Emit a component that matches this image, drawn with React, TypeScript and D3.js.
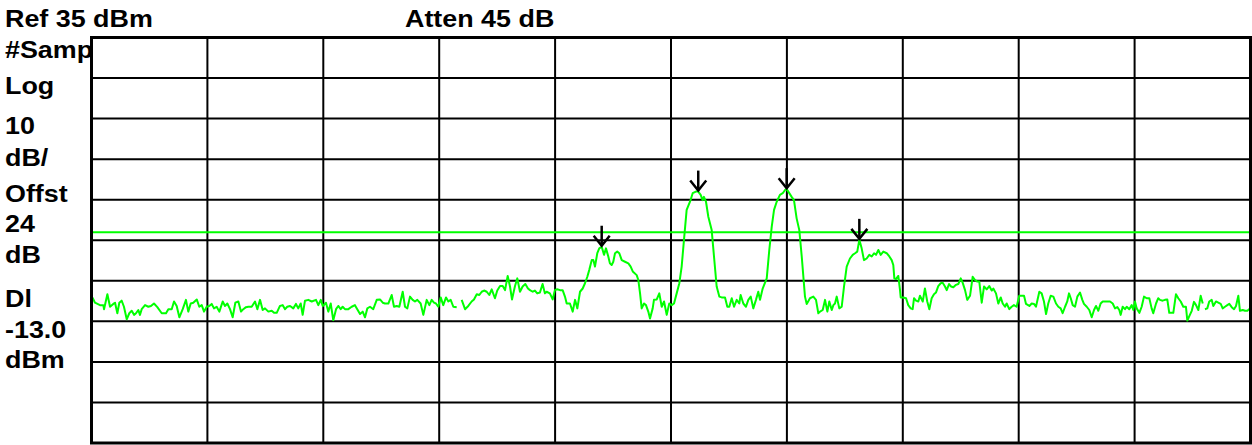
import React from "react";
import * as d3 from "d3";

// ---- Data (x in screen divisions 0..10, amplitude in dBm) ----
const refLevel = 35; // dBm
const dbPerDiv = 10;
const numDivX = 10;
const numDivY = 10;
const displayLineDbm = -13.0;

const headerTexts = ["Ref 35 dBm", "Atten 45 dB"];
const sideLabels = ["#Samp", "Log", "10", "dB/", "Offst", "24", "dB", "Dl", "-13.0", "dBm"];

const traceDiv = [
  0.000, 0.010, 0.030, 0.073, 0.102, 0.108, 0.137, 0.160, 0.188, 0.203, 0.223, 0.240, 0.260, 0.280, 0.304, 0.326,
  0.347, 0.367, 0.384, 0.404, 0.418, 0.433, 0.462, 0.490, 0.513, 0.539, 0.568, 0.606, 0.643, 0.663, 0.692, 0.712,
  0.735, 0.758, 0.787, 0.815, 0.835, 0.856, 0.878, 0.908, 0.930, 0.951, 0.971, 0.994, 1.016, 1.037, 1.057, 1.080,
  1.103, 1.132, 1.152, 1.172, 1.195, 1.218, 1.241, 1.267, 1.290, 1.310, 1.333, 1.353, 1.382, 1.411, 1.431, 1.454,
  1.477, 1.497, 1.526, 1.555, 1.575, 1.598, 1.626, 1.650, 1.670, 1.689, 1.713, 1.741, 1.764, 1.784, 1.805, 1.822,
  1.842, 1.871, 1.900, 1.937, 1.957, 1.978, 1.995, 2.023, 2.043, 2.064, 2.086, 2.110, 2.129, 2.150, 2.167, 2.187,
  2.216, 2.245, 2.273, 2.293, 2.317, 2.340, 2.360, 2.380, 2.403, 2.431, 2.461, 2.489, 2.513, 2.532, 2.561, 2.590,
  2.610, 2.633, 2.656, 2.685, 2.705, 2.725, 2.748, 2.771, 2.791, 2.811, 2.840, 2.863, 2.892, 2.915, 2.935, 2.955,
  2.972, 2.992, 3.013, 3.035, 3.059, 3.079, 3.099, 3.122, 3.151, 3.172, 3.194, 3.223, 3.251, 3.280, 3.300, 3.324,
  3.346, 3.367, 3.387, 3.410, 3.432, 3.453, 3.481, 3.501, 3.525, 3.548, 3.568, 3.591, 3.611, 3.628, 3.654, 3.674,
  3.697, 3.720, 3.743, 3.766, 3.783, 3.807, 3.826, 3.846, 3.869, 3.892, 3.912, 3.927, 3.955, 3.979, 3.998, 4.018,
  4.042, 4.065, 4.085, 4.100, 4.128, 4.152, 4.172, 4.192, 4.215, 4.238, 4.258, 4.278, 4.295, 4.316, 4.330, 4.344,
  4.364, 4.381, 4.402, 4.422, 4.439, 4.459, 4.473, 4.488, 4.502, 4.517, 4.536, 4.554, 4.575, 4.603, 4.632, 4.652,
  4.670, 4.704, 4.718, 4.733, 4.747, 4.767, 4.784, 4.804, 4.819, 4.842, 4.853, 4.877, 4.899, 4.920, 4.940, 4.963,
  4.985, 5.006, 5.026, 5.049, 5.072, 5.092, 5.112, 5.135, 5.164, 5.187, 5.215, 5.235, 5.256, 5.273, 5.284, 5.302,
  5.322, 5.351, 5.371, 5.394, 5.417, 5.437, 5.466, 5.486, 5.503, 5.524, 5.544, 5.567, 5.589, 5.601, 5.624, 5.647,
  5.667, 5.688, 5.710, 5.733, 5.753, 5.768, 5.791, 5.826, 5.848, 5.869, 5.889, 5.912, 5.940, 5.964, 5.984, 5.998,
  6.012, 6.041, 6.061, 6.084, 6.107, 6.128, 6.156, 6.171, 6.199, 6.228, 6.251, 6.271, 6.286, 6.309, 6.329, 6.349,
  6.366, 6.387, 6.401, 6.415, 6.430, 6.452, 6.473, 6.493, 6.516, 6.544, 6.568, 6.588, 6.607, 6.625, 6.645, 6.665,
  6.688, 6.711, 6.732, 6.752, 6.769, 6.789, 6.809, 6.832, 6.861, 6.884, 6.904, 6.918, 6.927, 6.941, 6.961, 6.976,
  6.982, 7.004, 7.028, 7.047, 7.068, 7.085, 7.097, 7.114, 7.134, 7.148, 7.172, 7.191, 7.211, 7.229, 7.249, 7.269,
  7.286, 7.306, 7.327, 7.344, 7.364, 7.379, 7.399, 7.416, 7.436, 7.459, 7.479, 7.500, 7.517, 7.537, 7.556, 7.580,
  7.603, 7.623, 7.643, 7.660, 7.681, 7.701, 7.724, 7.746, 7.767, 7.781, 7.804, 7.824, 7.845, 7.862, 7.882, 7.896,
  7.919, 7.939, 7.959, 7.982, 8.005, 8.026, 8.046, 8.063, 8.092, 8.112, 8.132, 8.149, 8.178, 8.198, 8.218, 8.236,
  8.255, 8.276, 8.299, 8.322, 8.342, 8.362, 8.379, 8.400, 8.419, 8.434, 8.449, 8.466, 8.486, 8.506, 8.529, 8.549,
  8.563, 8.587, 8.609, 8.630, 8.650, 8.667, 8.687, 8.707, 8.725, 8.759, 8.788, 8.811, 8.831, 8.851, 8.868, 8.880,
  8.897, 8.917, 8.932, 8.954, 8.975, 8.989, 9.003, 9.018, 9.041, 9.061, 9.081, 9.104, 9.127, 9.147, 9.161, 9.185,
  9.204, 9.219, 9.242, 9.262, 9.282, 9.299, 9.320, 9.334, 9.357, 9.377, 9.398, 9.420, 9.443, 9.455, 9.472, 9.493,
  9.512, 9.530, 9.550, 9.570, 9.588, 9.598, 9.607, 9.627, 9.644, 9.665, 9.679, 9.702, 9.722, 9.743, 9.760, 9.780,
  9.800, 9.817, 9.838, 9.858, 9.875, 9.895, 9.909, 9.933, 9.953, 9.973, 9.996, 10.000,
];

const traceDbm: (number | null)[] = [
  -30.1, -29.2, -30.4, -31.0, -31.0, -32.0, -28.3, -31.4, -30.7, -30.4, -33.0, -30.4, -29.9, -31.4, -34.5, -33.0,
  -32.4, -33.4, -33.0, -32.2, -33.4, -32.0, -31.0, -31.4, -31.2, -30.6, -31.5, -33.0, -33.0, -32.0, -32.0, -30.1,
  -31.2, -34.0, -32.0, -29.7, -32.6, -30.6, -30.4, -29.6, -31.4, -31.0, -32.6, -31.4, -31.2, -30.7, -31.8, -31.4,
  -32.6, -30.1, -31.2, -30.6, -32.0, -34.0, -30.4, -30.1, -32.6, -32.0, -31.5, -31.4, -31.4, -30.1, -32.0, -29.7,
  -32.2, -31.8, -32.6, -32.4, -32.9, -32.9, -31.2, -31.0, -32.0, -31.4, -31.2, -31.8, -30.7, -31.8, -30.6, -33.4,
  -29.9, -29.7, -30.1, -29.7, -31.0, -29.7, -31.2, -30.4, -32.6, -30.6, -34.7, -32.0, -31.2, -32.0, -31.4, -32.0,
  -32.0, -31.4, -31.0, -32.0, -33.2, -32.6, -34.0, -31.8, -31.4, -32.0, -29.7, -29.6, -30.4, -30.6, -30.6, -28.5,
  -31.4, -31.2, -31.4, -27.7, -31.4, -31.8, -28.9, -29.7, -30.1, -29.7, -30.6, -33.4, -29.7, -31.0, -29.7, -30.4,
  -30.6, -31.4, -29.1, -31.0, -29.1, -30.1, -29.7, -31.4, -31.5, null, -29.7, -32.0, -31.2, -30.1, -29.6, -28.3,
  -28.5, -27.7, -27.4, -27.7, -28.5, -27.1, -29.3, -27.4, -26.3, -26.3, -27.3, -23.8, -26.4, -29.6, -26.3, -24.4,
  -27.7, -26.4, -25.8, -26.9, -27.3, -27.7, -27.4, -28.1, -27.9, -25.8, -28.1, -27.7, -28.1, -29.6, -27.3, -27.1,
  -27.3, -27.3, -28.9, -30.6, -30.6, -32.6, -29.7, -31.8, -27.7, -26.9, -25.6, -24.0, -22.3, -19.9, -19.9, -21.5,
  -18.2, -17.0, -16.6, -18.6, -17.0, -19.0, -20.7, -21.1, -20.3, -18.2, -17.8, -18.2, -19.9, -20.3, -20.7, -21.5,
  -22.7, -23.6, -24.8, -28.1, -31.8, -30.6, -31.0, -32.6, -34.3, -31.8, -29.7, -29.6, -28.1, -31.4, -30.1, -33.4,
  -30.6, -31.0, -30.6, -28.1, -25.6, -21.5, -14.9, -7.5, -5.5, -3.4, -3.0, -3.0, -3.8, -5.1, -4.3, -5.5,
  -9.2, -12.5, -19.0, -26.4, -28.9, -29.1, -29.1, -31.4, -31.4, -29.3, -31.4, -29.7, -30.6, -28.5, -30.6, -31.4,
  -29.7, -28.9, -31.8, -29.7, -27.7, -29.7, -26.9, -24.4, -17.4, -11.7, -7.5, -5.5, -3.8, -3.4, -2.6, -2.4,
  -3.0, -4.3, -5.1, -9.6, -12.5, -19.0, -28.9, -30.7, -29.3, -28.9, -29.7, -33.0, -32.6, -32.2, -29.7, -32.6,
  -30.1, -32.2, -31.0, -30.6, -28.9, -31.8, -31.4, -26.4, -21.5, -19.5, -18.6, -18.2, -17.8, -14.9, -17.0, -19.9,
  -19.5, -18.6, -19.0, -18.2, -18.6, -17.4, -18.6, -17.8, -18.2, -19.0, -19.9, -21.1, -24.4, -24.6, -23.8, -27.3,
  -29.1, -29.1, -29.3, -31.0, -31.8, -32.0, -29.3, -29.9, -30.1, -28.7, -30.1, -26.9, -30.1, -32.0, -29.3, -28.3,
  -27.9, -26.3, -25.6, -25.5, -26.4, -27.3, -25.8, -26.4, -26.6, -26.0, -25.8, -24.4, -25.5, -27.3, -29.7, -28.7,
  -24.0, -24.8, -25.2, -25.2, -30.4, -26.4, -27.1, -26.3, -27.4, -26.9, -28.1, -30.6, -29.1, -30.6, -31.4, -30.6,
  -32.0, -31.4, -31.0, -31.4, -28.7, -28.7, -28.7, -30.7, -31.2, -30.6, -30.7, -31.4, -27.7, -28.1, -30.1, -33.2,
  -30.6, -28.7, -28.9, -30.6, -31.4, -31.8, -33.0, -31.4, -30.1, -28.1, -29.3, -31.0, -31.4, -28.9, -27.9, -29.7,
  -30.7, -31.4, -32.2, -34.0, -32.2, -31.2, -32.4, -30.6, -30.1, -30.1, -30.1, -30.6, -31.8, -31.5, -32.2, -33.4,
  -31.4, -32.0, -31.4, -32.0, -31.0, -32.2, -30.1, -31.8, -32.9, -31.4, -28.9, -29.3, -29.3, -31.8, -33.0, -30.6,
  -29.3, -29.7, -29.9, -29.7, -29.6, -32.9, -32.9, -32.9, -28.3, -29.3, -30.1, -31.4, -31.4, -34.8, -33.7, -32.4,
  -30.2, -31.0, -32.2, -28.7, -30.6, null, -32.0, -31.8, -30.1, -29.7, -31.2, -30.1, -30.4, -30.7, -31.8, -31.4,
  -31.0, -30.7, -31.5, -32.0, -31.2, -28.7, -32.4, -32.2, -32.4, -32.4, -31.8, -30.6,
];

const markerDiv = [4.402, 5.235, 5.998, 6.625];
const markerDbm = [-16.6, -3.0, -2.4, -14.9];

// ---- Layout ----
const W = 1252;
const H = 445;
const plotLeft = 91.5;
const plotRight = 1250.5;
const plotTop = 37.5;
const plotBottom = 443;
const textX = 5;
const headerX = [5, 405];
const headerY = 27;
const sideLabelY = [58, 94, 134, 166, 202, 232, 263, 307, 338, 368];
const fontSize = 24;
const textStretch = 1.12;
const GREEN = "#00ff00";
const FONT = "'Liberation Sans', Arial, Helvetica, sans-serif";

function Label({ x, y, text }: { x: number; y: number; text: string }) {
  return (
    <text
      transform={`translate(${x},${y}) scale(${textStretch},1)`}
      fontFamily={FONT}
      fontWeight="bold"
      fontSize={fontSize}
      fill="#000"
    >
      {text}
    </text>
  );
}

export default function App() {
  const x = d3.scaleLinear().domain([0, numDivX]).range([plotLeft, plotRight]);
  const y = d3
    .scaleLinear()
    .domain([refLevel - dbPerDiv * numDivY, refLevel])
    .range([plotBottom, plotTop]);

  const xTicks = d3.range(1, numDivX);
  const yTicks = d3.range(1, numDivY).map((i) => refLevel - i * dbPerDiv);

  const points = traceDiv.map((d, i) => [d, traceDbm[i]] as [number, number | null]);
  const line = d3
    .line<[number, number | null]>()
    .defined((d) => d[1] !== null && d[1] !== undefined)
    .x((d) => x(d[0]))
    .y((d) => y(d[1] as number));

  return (
    <svg
      width={W}
      height={H}
      style={{ position: "absolute", left: 0, top: 0, background: "#fff" }}
    >
      <rect x={0} y={0} width={W} height={H} fill="#fff" />
      {/* grid */}
      <rect x={plotLeft} y={plotTop} width={plotRight - plotLeft} height={plotBottom - plotTop} fill="#fff" />
      {xTicks.map((t) => (
        <line key={"vx" + t} x1={x(t)} x2={x(t)} y1={plotTop} y2={plotBottom} stroke="#000" strokeWidth={2} />
      ))}
      {yTicks.map((t) => (
        <line key={"hy" + t} x1={plotLeft} x2={plotRight} y1={y(t)} y2={y(t)} stroke="#000" strokeWidth={2} />
      ))}
      {/* display line */}
      <line
        x1={plotLeft}
        x2={plotRight}
        y1={y(displayLineDbm)}
        y2={y(displayLineDbm)}
        stroke={GREEN}
        strokeWidth={2}
      />
      {/* trace */}
      <path d={line(points) || ""} fill="none" stroke={GREEN} strokeWidth={2} strokeLinejoin="round" />
      {/* markers */}
      {markerDiv.map((m, i) => {
        const mx = x(m);
        const tip = y(markerDbm[i]) - 1;
        return (
          <g key={"m" + i} stroke="#000" strokeWidth={2.5} fill="none">
            <line x1={mx} x2={mx} y1={tip - 20} y2={tip} />
            <polyline points={`${mx - 8},${tip - 10} ${mx},${tip} ${mx + 8},${tip - 10}`} />
          </g>
        );
      })}
      {/* border */}
      <rect
        x={plotLeft}
        y={plotTop}
        width={plotRight - plotLeft}
        height={plotBottom - plotTop}
        fill="none"
        stroke="#000"
        strokeWidth={3}
      />
      {/* texts */}
      {headerTexts.map((t, i) => (
        <Label key={t} x={headerX[i]} y={headerY} text={t} />
      ))}
      {sideLabels.map((t, i) => (
        <Label key={i} x={textX} y={sideLabelY[i]} text={t} />
      ))}
    </svg>
  );
}
